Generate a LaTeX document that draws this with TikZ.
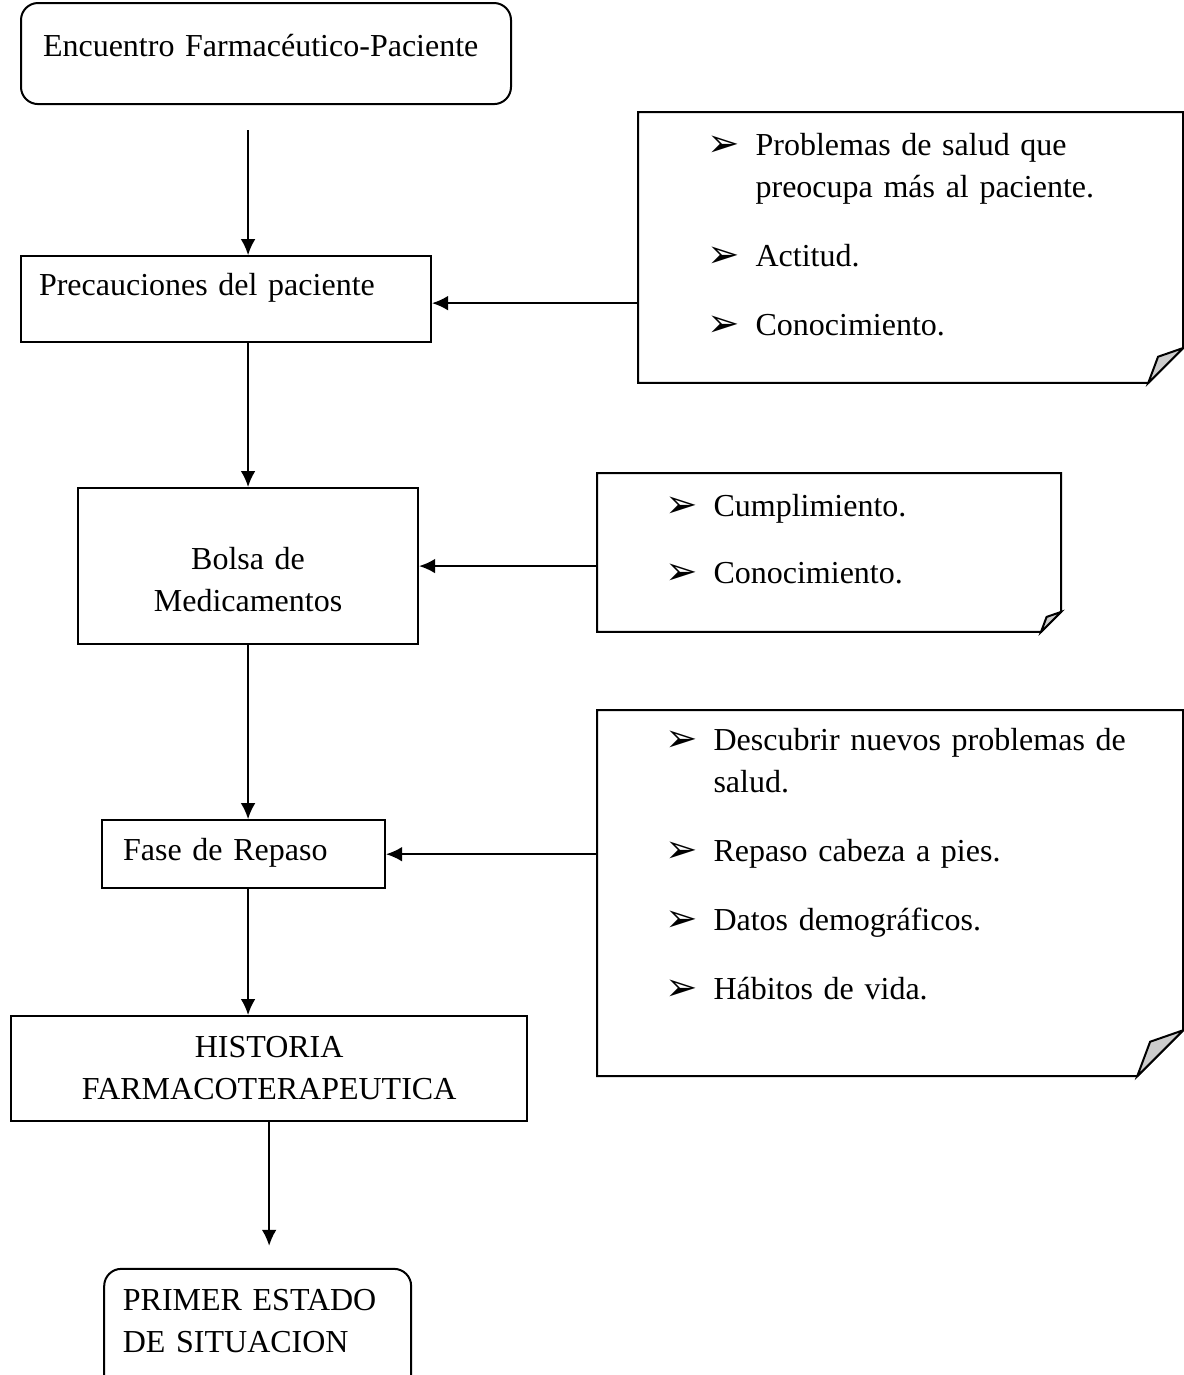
\documentclass[tikz,border=0pt]{standalone}
\usepackage{fontspec}
\setmainfont{Liberation Serif}
\newfontfamily\flechafont{DejaVu Sans}
\usetikzlibrary{positioning,shapes,arrows,arrows.meta}

\newcommand{\flecha}{\makebox[18pt][l]{\flechafont\fontsize{14.5}{14.5}\selectfont\raisebox{-0.3pt}{➢}}}
\newcommand{\sangria}{\hspace*{18pt}}

\begin{document}
\begin{tikzpicture}[
		  x=0.375pt, y=-0.375pt,
		  font=\fontsize{12}{15.75}\selectfont,
		  caja/.style={draw,line width=0.75pt,inner ysep=0pt,align=left},
		  cajar/.style={caja,rounded corners=6.4pt},
		  nota/.style={inner ysep=0pt,inner xsep=25.5pt,align=left,anchor=north west},
		  flujo/.style={line width=0.75pt,-{Latex[length=6pt,width=5.5pt]}}
		]
		\useasboundingbox (0,0) rectangle (1184,1375);
		% columna principal
		\node[cajar,anchor=north west,inner xsep=8.25pt,text width=167.25pt,text height=19.9pt,text depth=18pt] (Enc) at (20,2) {Encuentro Farmacéutico-Paciente};
		\node[caja,below right=56.3pt and 0pt of Enc.south west,inner xsep=6.75pt,text width=140.25pt,text height=14.6pt,text depth=17.6pt] (Prec) {Precauciones del paciente};
		\node[caja,align=center,below right=54pt and 21.4pt of Prec.south west,inner xsep=0pt,text width=127.5pt,text height=30.7pt,text depth=27.8pt] (Bolsa) {Bolsa de\\Medicamentos};
		\node[caja,below right=65.3pt and 9pt of Bolsa.south west,inner xsep=7.9pt,text width=90.3pt,text height=15pt,text depth=10.5pt] (Fase) {Fase de Repaso};
		\node[caja,align=center,below right=47.2pt and -34.1pt of Fase.south west,inner xsep=0pt,text width=193.5pt,text height=15.35pt,text depth=24pt] (Hist) {HISTORIA\\FARMACOTERAPEUTICA};
		\node[cajar,below right=54.7pt and 34.9pt of Hist.south west,inner xsep=7pt,text width=101.1pt,text height=15.75pt,text depth=31.9pt] (Prim) {PRIMER ESTADO\\DE SITUACION};
		% notas
		\node[nota,inner xsep=25.9pt,text width=152.25pt,text height=16.1pt,text depth=85.1pt] (Preoc) at (638,112)
			{\flecha\mbox{Problemas de salud que}\\ \sangria\mbox{preocupa más al paciente.}\\[10.1pt]\flecha Actitud.\\[10.1pt]\flecha Conocimiento.};
		\node[nota,text width=122.6pt,text height=16.1pt,text depth=43.1pt] (Cump) at (597,473)
			{\flecha Cumplimiento.\\[9.4pt]\flecha Conocimiento.};
		\node[nota,text width=168.4pt,text height=15pt,text depth=121.9pt] (Desc) at (597,710)
			{\flecha\mbox{Descubrir nuevos problemas de}\\ \sangria salud.\\[10.1pt]\flecha\mbox{Repaso cabeza a pies.}\\[10.1pt]\flecha\mbox{Datos demográficos.}\\[10.1pt]\flecha\mbox{Hábitos de vida.}};
		\foreach \n/\d in {Preoc/13.1pt,Cump/7.5pt,Desc/17.2pt} {
			\draw[line width=0.75pt] (\n.north west) -- (\n.north east) -- ([yshift=\d]\n.south east) -- ([xshift=-\d]\n.south east) -- (\n.south west) -- cycle;
			\filldraw[line width=0.75pt,fill=gray!40] ([yshift=\d]\n.south east) -- ([xshift=-0.72*\d,yshift=0.75*\d]\n.south east) -- ([xshift=-\d]\n.south east) -- cycle;
		}
		% flechas
		\draw[flujo,shorten <=9.4pt] (Enc.south -| Bolsa.north) -- (Prec.north -| Bolsa.north);
		\draw[flujo] (Prec.south -| Bolsa.north) -- (Bolsa.north);
		\draw[flujo] (Bolsa.south) -- (Fase.north -| Bolsa.south);
		\draw[flujo] (Fase.south -| Bolsa.south) -- (Hist.north -| Bolsa.south);
		\draw[flujo,shorten >=8.25pt] (Hist.south) -- (Prim.north -| Hist.south);
		\draw[flujo] ([yshift=-1.5pt]Preoc.west |- Prec.east) -- ([yshift=-1.5pt]Prec.east);
		\draw[flujo] (Cump.west |- Bolsa.east) -- (Bolsa.east);
		\draw[flujo] (Desc.west |- Fase.east) -- (Fase.east);
		\end{tikzpicture}
\end{document}
